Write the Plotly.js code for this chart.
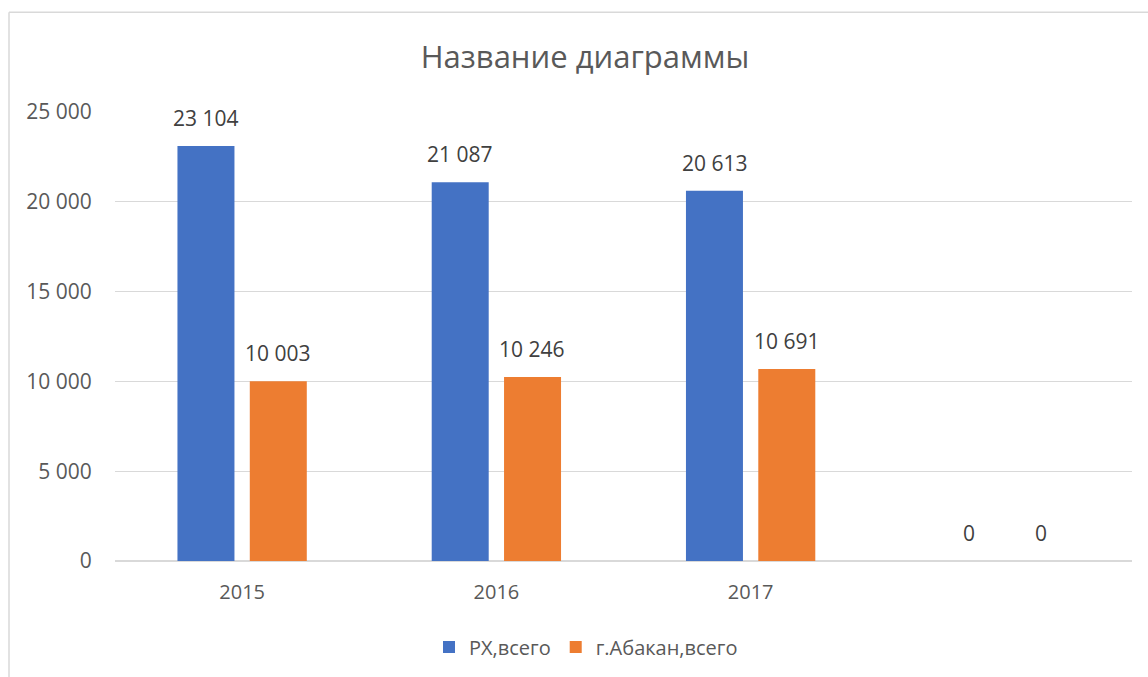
<!DOCTYPE html>
<html>
<head>
<meta charset="utf-8">
<script src="https://cdn.plot.ly/plotly-3.0.1.min.js"></script>
<style>html,body{margin:0;padding:0;background:#fff;}#chart{width:1148px;height:677px;}</style>
</head>
<body>
<div id="chart"></div>
<script>
const categories = ['2015', '2016', '2017', ''];
const seriesNames = ['РХ,всего', 'г.Абакан,всего'];
const rhValues = [23104, 21087, 20613, 0];
const abakanValues = [10003, 10246, 10691, 0];
const yTicks = [0, 5000, 10000, 15000, 20000, 25000];
const titleText = 'Название диаграммы';

const FONT = 'Open Sans, Calibri, sans-serif';
const colors = ['#4472C4', '#ED7D31'];
const xPos = categories.map((c, i) => i);

function fmt(v) {
  return String(v).replace(/\B(?=(\d{3})+(?!\d))/g, ' ');
}

const traces = [
  {type: 'bar', name: seriesNames[0], x: xPos, y: rhValues, marker: {color: colors[0]}, hoverinfo: 'none'},
  {type: 'bar', name: seriesNames[1], x: xPos, y: abakanValues, marker: {color: colors[1]}, hoverinfo: 'none'}
];

const annotations = [];
[rhValues, abakanValues].forEach((vals, si) => {
  vals.forEach((v, i) => {
    annotations.push({
      x: xPos[i], y: v, xref: 'x', yref: 'y',
      text: fmt(v), showarrow: false,
      xanchor: 'center', yanchor: 'bottom',
      xshift: si === 0 ? -36 : 36, yshift: 12,
      font: {family: FONT, size: 21, color: '#404040'}
    });
  });
});

const layout = {
  width: 1148, height: 677,
  margin: {l: 115, r: 16, t: 112, b: 115},
  paper_bgcolor: '#ffffff', plot_bgcolor: '#ffffff',
  showlegend: true,
  title: {
    text: titleText, xref: 'container', x: 585 / 1148, xanchor: 'center',
    yref: 'container', y: 1 - 57 / 677, yanchor: 'middle',
    font: {family: FONT, size: 31, color: '#595959'}
  },
  barmode: 'group', bargap: 0.431, bargroupgap: 0.212,
  xaxis: {
    type: 'linear', range: [-0.5, categories.length - 0.5],
    tickmode: 'array', tickvals: xPos, ticktext: categories,
    showgrid: false, zeroline: false, showline: false,
    ticks: 'outside', ticklen: 13, tickcolor: 'rgba(0,0,0,0)',
    tickfont: {family: FONT, size: 20, color: '#595959'}, fixedrange: true
  },
  yaxis: {
    range: [0, 25000], tickmode: 'array', tickvals: yTicks, ticktext: yTicks.map(fmt),
    showgrid: true, gridcolor: '#d9d9d9', gridwidth: 1,
    zeroline: true, zerolinecolor: '#d9d9d9', zerolinewidth: 1.5, showline: false,
    ticks: 'outside', ticklen: 18, tickcolor: 'rgba(0,0,0,0)',
    tickfont: {family: FONT, size: 21, color: '#595959'}, fixedrange: true
  },
  legend: {
    orientation: 'h', xref: 'paper', x: (586 - 115) / 1017, xanchor: 'center',
    yref: 'paper', y: (562 - 647) / 450, yanchor: 'middle',
    font: {family: FONT, size: 20, color: '#595959'}, traceorder: 'normal',
    itemwidth: 30
  },
  annotations: annotations,
  shapes: [
    {type: 'line', xref: 'paper', yref: 'paper', x0: (9 - 115) / 1017, x1: (9 - 115) / 1017, y0: (562 - 12) / 450, y1: (562 - 690) / 450, line: {color: '#d9d9d9', width: 1.5}},
    {type: 'line', xref: 'paper', yref: 'paper', x0: (9 - 115) / 1017, x1: (1160 - 115) / 1017, y0: (562 - 12) / 450, y1: (562 - 12) / 450, line: {color: '#d9d9d9', width: 1.5}}
  ]
};

Plotly.newPlot('chart', traces, layout, {displayModeBar: false, staticPlot: true});
</script>
</body>
</html>
